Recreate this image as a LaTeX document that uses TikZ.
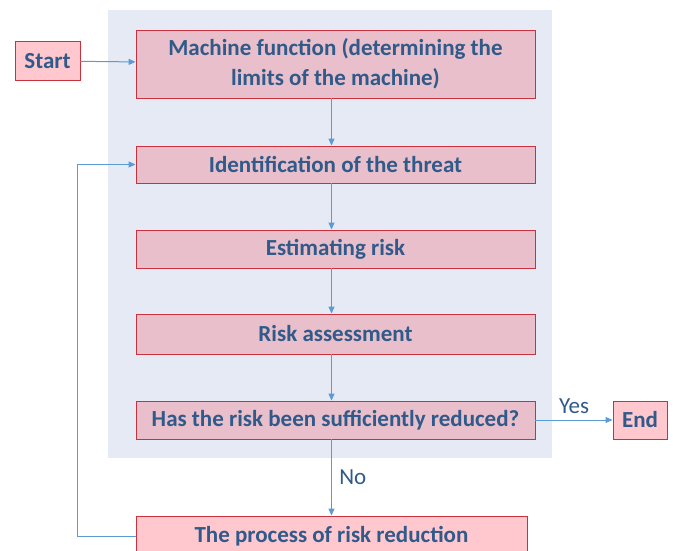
\documentclass[tikz,border=0pt]{standalone}
\usepackage{fontspec}
\setmainfont{Carlito}
\usetikzlibrary{arrows.meta}

\begin{document}
\begin{tikzpicture}[x=1pt,y=-1pt,
  stepbox/.style={draw=redline,fill=rosy,line width=0.9pt,text=navy,
    font=\bfseries\fontsize{23}{30}\selectfont,align=center,inner sep=0pt},
  endbox/.style={stepbox,fill=salmon},
  flow/.style={draw=skyline,line width=1pt,-{Triangle[length=7pt,width=6pt]}},
  answer/.style={text=navy,font=\fontsize{23}{25}\selectfont}]
\definecolor{redline}{HTML}{C8313E}
\definecolor{rosy}{HTML}{E8BFCA}
\definecolor{salmon}{HTML}{FFC7CE}
\definecolor{navy}{HTML}{2F5A8A}
\definecolor{skyline}{HTML}{5B9BD5}
\definecolor{panel}{HTML}{E6EAF5}
\useasboundingbox (0,0) rectangle (673,551);
% shaded panel behind the main steps
\fill[panel] (108,10) rectangle (552,458);
\node[endbox,minimum width=65,minimum height=39] (start) at (47.5,61) {Start};
\node[stepbox,minimum width=399,minimum height=68] (fun) at (335.5,64)
  {Machine function (determining the\\limits of the machine)};
\foreach \name/\y/\h/\txt in {threat/164.5/37/Identification of the threat,
    estim/249/38/Estimating risk,
    assess/334/40/Risk assessment,
    check/420/38/Has the risk been sufficiently reduced?}
  {\node[stepbox,minimum width=399,minimum height=\h] (\name) at (335.5,\y) {\txt};}
\node[endbox,minimum width=54,minimum height=38] (end) at (640,420) {End};
\node[endbox,minimum width=391,minimum height=40] (reduce) at (331.5,536)
  {The process of risk reduction};
% connectors
\draw[flow] (start) -- (fun);
\draw[flow] (fun.south -| reduce) -- (threat.north -| reduce);
\draw[flow] (threat.south -| reduce) -- (estim.north -| reduce);
\draw[flow] (estim.south -| reduce) -- (assess.north -| reduce);
\draw[flow] (assess.south -| reduce) -- (check.north -| reduce);
\draw[flow] (check) -- node[answer,above,yshift=3] {Yes} (end);
\draw[flow] (check.south -| reduce) -- node[answer,right,xshift=4] {No} (reduce);
\draw[flow] (reduce.west) -- ++(-58,0) |- (threat.west);
\end{tikzpicture}
\end{document}
